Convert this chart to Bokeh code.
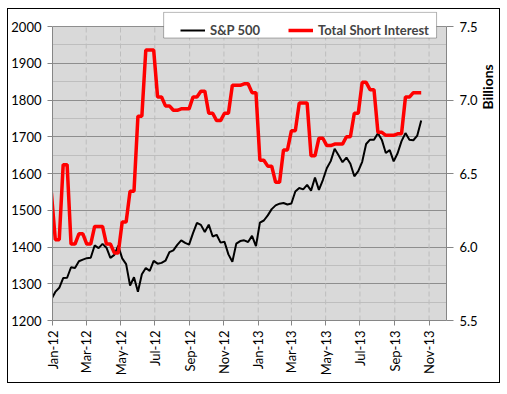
import pandas as pd
from math import pi
from bokeh.plotting import figure
from bokeh.layouts import row
from bokeh.models import (Range1d, LinearAxis, FixedTicker, DatetimeTickFormatter, BoxAnnotation,
                          Legend, LegendItem, NumeralTickFormatter, ColumnDataSource, Label)
from bokeh.embed import file_html
from bokeh.resources import INLINE

# ---- data (weekly) ----
start_date = "2011-12-30"
n_weeks = 95
sp500 = [1257.6, 1277.8, 1289.1, 1315.4, 1316.3, 1344.9, 1342.6, 1361.2, 1365.7, 1369.6,
         1370.9, 1404.2, 1397.1, 1408.5, 1398.1, 1370.3, 1378.5, 1403.4, 1369.1, 1353.4,
         1295.2, 1317.8, 1278.0, 1325.7, 1342.8, 1335.0, 1362.2, 1354.7, 1356.8, 1362.7,
         1386.0, 1391.0, 1405.9, 1418.2, 1411.1, 1406.6, 1437.9, 1465.8, 1460.2, 1440.7,
         1460.9, 1428.6, 1433.2, 1411.9, 1414.2, 1379.9, 1359.9, 1409.2, 1416.2, 1418.1,
         1413.6, 1430.2, 1402.4, 1466.5, 1472.1, 1486.0, 1503.0, 1513.2, 1517.9, 1519.8,
         1515.6, 1518.2, 1551.2, 1560.7, 1556.9, 1569.2, 1553.3, 1588.9, 1555.3, 1582.2,
         1614.4, 1633.7, 1667.5, 1649.6, 1630.7, 1643.4, 1626.7, 1592.4, 1606.3, 1631.9,
         1680.2, 1692.1, 1691.7, 1709.7, 1691.4, 1655.8, 1663.5, 1633.0, 1655.2, 1688.0,
         1709.9, 1691.8, 1690.5, 1703.2, 1744.5]
short_interest = [6.37, 6.05, 6.05, 6.56, 6.56, 6.02, 6.02, 6.09, 6.09, 6.02,
                  6.02, 6.14, 6.14, 6.14, 6.02, 6.02, 5.96, 5.96, 6.17, 6.17,
                  6.38, 6.38, 6.89, 6.89, 7.34, 7.34, 7.34, 7.02, 7.02, 6.96,
                  6.96, 6.93, 6.93, 6.94, 6.94, 6.94, 7.02, 7.02, 7.06, 7.06,
                  6.91, 6.91, 6.86, 6.86, 6.91, 6.91, 7.10, 7.10, 7.10, 7.11,
                  7.11, 7.05, 7.05, 6.59, 6.59, 6.55, 6.55, 6.44, 6.44, 6.66,
                  6.66, 6.79, 6.79, 6.98, 6.98, 6.98, 6.62, 6.62, 6.74, 6.74,
                  6.69, 6.69, 6.70, 6.70, 6.70, 6.75, 6.75, 6.91, 6.91, 7.12,
                  7.12, 7.07, 7.07, 6.78, 6.78, 6.76, 6.76, 6.76, 6.77, 6.77,
                  7.02, 7.02, 7.05, 7.05, 7.05]
x_ticks = ["2012-01-01", "2012-03-01", "2012-05-01", "2012-07-01", "2012-09-01", "2012-11-01",
           "2013-01-01", "2013-03-01", "2013-05-01", "2013-07-01", "2013-09-01", "2013-11-01"]
x_min, x_max = "2012-01-01", "2013-12-02"
left_min, left_max = 1200, 2000
right_min, right_max = 5.5, 7.5
left_ticks = [1200, 1300, 1400, 1500, 1600, 1700, 1800, 1900, 2000]
left_minor = [1250, 1350, 1450, 1550, 1650, 1750, 1850, 1950]
right_ticks = [5.5, 6.0, 6.5, 7.0, 7.5]
right_title = "Billions"

dates = pd.date_range(start_date, periods=n_weeks, freq="7D")
src = ColumnDataSource(dict(date=dates, sp=sp500, si=short_interest))

def ms(d):
    return pd.Timestamp(d).value / 1e6

FONT = "Lato"
W, H = 472, 373
MB_L, MB_R, MB_T, MB_B = 43, 32, 2, 62
PLOT_H = 294                      # pixel height of the grey plot area
FRAME_W = W - MB_L - MB_R
FRAME_H = H - MB_T - MB_B         # frame extends above the grey area (room for legend)
ext = FRAME_H / PLOT_H
y_top = left_min + (left_max - left_min) * ext

p = figure(width=W, height=H, output_backend="svg", toolbar_location=None,
           x_axis_type="datetime",
           x_range=Range1d(ms(x_min), ms(x_max)),
           y_range=Range1d(left_min, y_top),
           min_border_left=MB_L, min_border_right=MB_R, min_border_top=MB_T, min_border_bottom=MB_B)
p.background_fill_color = "white"
p.border_fill_color = "white"
p.outline_line_color = None
p.extra_y_ranges = {"si": Range1d(right_min, right_min + (right_max - right_min) * ext)}

p.add_layout(BoxAnnotation(bottom=left_min, top=left_max, fill_color="#D9D9D9", fill_alpha=1,
                           line_color=None, level="image"))

# grids
p.xgrid.visible = False
tick_ms = [ms(t) for t in x_ticks]
p.segment(x0=tick_ms, x1=tick_ms, y0=[left_min] * len(tick_ms), y1=[left_max] * len(tick_ms),
          line_color="#BDBDBD", line_dash="5 3", line_width=1)
p.ygrid.ticker = FixedTicker(ticks=left_ticks, minor_ticks=left_minor)
p.ygrid.grid_line_color = "#8E8E8E"
p.ygrid.minor_grid_line_color = "#BEBEBE"

# x axis
xa = p.xaxis[0]
xa.ticker = FixedTicker(ticks=tick_ms)
xa.formatter = DatetimeTickFormatter(days="%b-%y", months="%b-%y", years="%b-%y")
xa.major_label_orientation = pi / 2
xa.axis_line_color = "#868686"
xa.major_tick_line_color = "#868686"
xa.major_tick_in = 0
xa.major_tick_out = 5
xa.minor_tick_line_color = None
xa.major_label_standoff = 5
xa.major_label_text_font = FONT
xa.major_label_text_font_size = "13px"
xa.major_label_text_color = "black"

# left axis
ya = p.yaxis[0]
ya.ticker = FixedTicker(ticks=left_ticks)
ya.bounds = (left_min, left_max)
ya.axis_line_color = "#868686"
ya.major_tick_line_color = "#868686"
ya.major_tick_in = 0
ya.major_tick_out = 5
ya.minor_tick_line_color = None
ya.major_label_standoff = 6
ya.major_label_text_font = FONT
ya.major_label_text_font_size = "13px"
ya.major_label_text_color = "black"

# right axis
ra = LinearAxis(y_range_name="si", ticker=FixedTicker(ticks=right_ticks),
                formatter=NumeralTickFormatter(format="0.0"), bounds=(right_min, right_max))
ra.axis_line_color = "#868686"
ra.major_tick_line_color = "#868686"
ra.major_tick_in = 0
ra.major_tick_out = 7
ra.minor_tick_line_color = None
ra.major_label_standoff = 6
ra.major_label_text_font = FONT
ra.major_label_text_font_size = "13px"
ra.major_label_text_color = "black"
p.add_layout(ra, "right")

r_sp = p.line("date", "sp", source=src, line_color="black", line_width=2)
r_si = p.line("date", "si", source=src, y_range_name="si", line_color="#FF0000", line_width=3.5)

# legend frame box (pixel offsets inside the plot frame -> data units)
def px_to_x(px):
    return ms(x_min) + (ms(x_max) - ms(x_min)) * px / FRAME_W

def px_to_y(py):
    return left_min + (y_top - left_min) * py / FRAME_H

p.add_layout(BoxAnnotation(left=px_to_x(112), right=px_to_x(387),
                           bottom=px_to_y(282.5), top=px_to_y(308.2),
                           fill_color="white", fill_alpha=1, line_color="black", line_width=1,
                           level="annotation"))

legend = Legend(items=[LegendItem(label="S&P 500", renderers=[r_sp]),
                       LegendItem(label="Total Short Interest", renderers=[r_si])],
                orientation="horizontal", location=(128, 282))
legend.label_text_font = FONT
legend.label_text_font_style = "bold"
legend.label_text_font_size = "13px"
legend.glyph_width = 25
legend.glyph_height = 14
legend.label_height = 14
legend.label_standoff = 5
legend.spacing = 28
legend.padding = 5
legend.margin = 0
legend.border_line_color = None
legend.background_fill_alpha = 0
p.add_layout(legend, "center")

# narrow strip on the right holding the rotated axis title
W2 = 19
p2 = figure(width=W2, height=H, output_backend="svg", toolbar_location=None,
            x_range=Range1d(0, W2), y_range=Range1d(0, H),
            x_axis_location=None, y_axis_location=None, min_border=0)
p2.grid.visible = False
p2.outline_line_color = None
p2.background_fill_color = "white"
p2.border_fill_color = "white"
p2.add_layout(Label(x=7, y=282, text=right_title, angle=pi / 2, text_align="center",
                    text_baseline="middle", text_font=FONT, text_font_style="bold",
                    text_font_size="14px", text_color="black"))

layout = row(p, p2, spacing=0)
layout.styles = {"border": "1px solid black", "margin-left": "7px", "margin-top": "8px"}

open("out.html", "w").write(file_html(layout, INLINE))
